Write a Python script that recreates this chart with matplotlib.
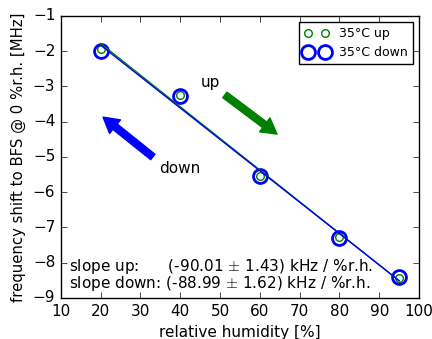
import numpy as np
import matplotlib
matplotlib.use('Agg')
import matplotlib.pyplot as plt

plt.style.use('classic')

# relative humidity [%]
rh = [20, 40, 60, 80, 95]
# frequency shift [MHz]
shift_up = [-1.93, -3.24, -5.54, -7.27, -8.43]
shift_down = [-1.99, -3.26, -5.55, -7.31, -8.41]

slope_text = ["slope up:      (-90.01 $\\pm$ 1.43) kHz / %r.h.",
              "slope down: (-88.99 $\\pm$ 1.62) kHz / %r.h."]

fig = plt.figure(figsize=(4.32, 3.39), dpi=100, facecolor='white')
ax = fig.add_axes([0.141, 0.121, 0.829, 0.832])

x = np.array(rh, dtype=float)
pu = np.polyfit(x, shift_up, 1)
pd_ = np.polyfit(x, shift_down, 1)
xf = np.array([rh[0], rh[-1]], dtype=float)

ax.plot(rh, shift_up, 'o', mfc='none', mec='green', mew=1.0, ms=5.5, label='35°C up')
ax.plot(rh, shift_down, 'o', mfc='none', mec='blue', mew=2.0, ms=10, label='35°C down')
ax.plot(xf, np.polyval(pu, xf), color='green', lw=1)
ax.plot(xf, np.polyval(pd_, xf), color='blue', lw=1)

astyle = 'simple,head_width=1.25,head_length=1.1,tail_width=0.5'
ax.annotate('', xy=(64.3, -4.35), xytext=(51.2, -3.24),
            arrowprops=dict(arrowstyle=astyle, color='green', mutation_scale=10,
                            shrinkA=0, shrinkB=0))
ax.annotate('', xy=(20.6, -3.87), xytext=(33.1, -5.0),
            arrowprops=dict(arrowstyle=astyle, color='blue', mutation_scale=10,
                            shrinkA=0, shrinkB=0))
ax.text(47.5, -2.9, 'up', fontsize=11, ha='center', va='center')
ax.text(39.9, -5.34, 'down', fontsize=11, ha='center', va='center')

ax.text(12, -8.72, '\n'.join(slope_text), fontsize=11, va='baseline',
        linespacing=0.87)

ax.set_xlim(10, 100)
ax.set_ylim(-9, -1)
ax.set_xlabel('relative humidity [%]', fontsize=11)
ax.set_ylabel('frequency shift to BFS @ 0 %r.h. [MHz]', fontsize=10.7)
ax.tick_params(labelsize=11)

leg = ax.legend(loc='upper right', fontsize=9, numpoints=2, fancybox=False)

fig.savefig('out.png', dpi=100, facecolor='white')
